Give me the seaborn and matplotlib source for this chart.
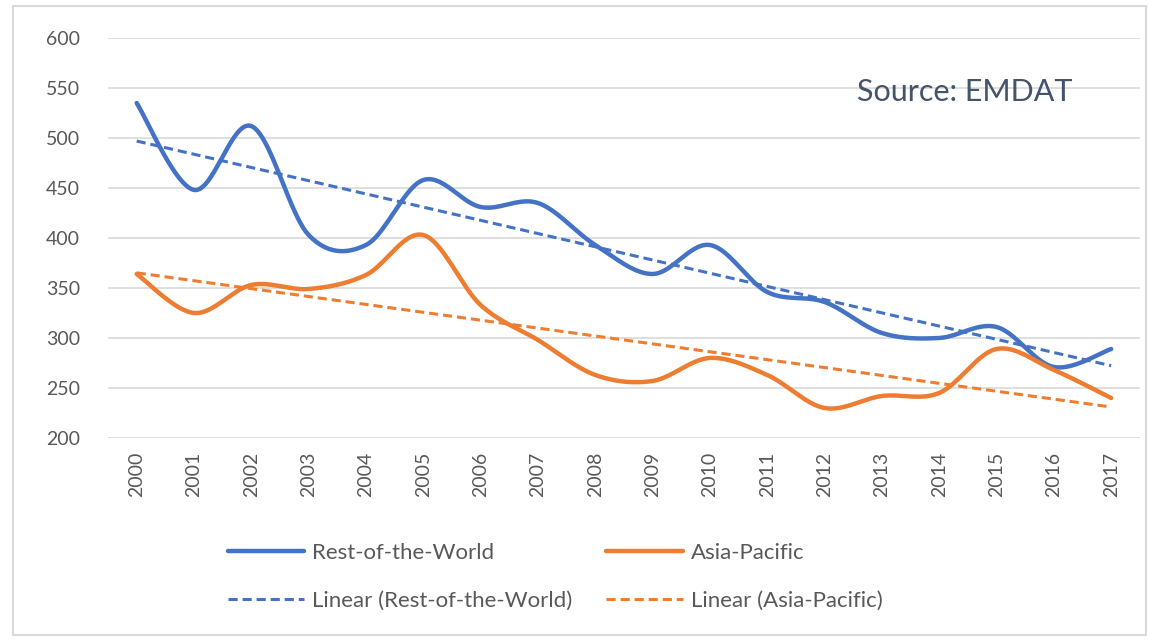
import numpy as np
import pandas as pd
import seaborn as sns
import matplotlib.pyplot as plt
from matplotlib.patches import Rectangle

years = [str(y) for y in range(2000, 2018)]
rest_of_world = [535, 448, 512, 403, 393, 458, 431, 435, 393, 364, 393, 346, 336, 305, 300, 311, 271, 289]
asia_pacific = [364, 325, 353, 349, 363, 403, 333, 298, 263, 257, 280, 263, 230, 242, 245, 289, 268, 240]

series_names = ["Rest-of-the-World", "Asia-Pacific"]
colors = ["#4472C4", "#ED7D31"]


def smooth(x, y, steps=20):
    # catmull-rom style smoothing, like excel's "smoothed line"
    x = np.asarray(x, float)
    y = np.asarray(y, float)
    px = np.concatenate([[x[0]], x, [x[-1]]])
    py = np.concatenate([[y[0]], y, [y[-1]]])
    xs, ys = [], []
    for i in range(1, len(px) - 2):
        t = np.linspace(0, 1, steps, endpoint=False)
        for p, out in ((px, xs), (py, ys)):
            p0, p1, p2, p3 = p[i - 1], p[i], p[i + 1], p[i + 2]
            c1 = p1 + (p2 - p0) / 6
            c2 = p2 - (p3 - p1) / 6
            out.extend((1 - t) ** 3 * p1 + 3 * (1 - t) ** 2 * t * c1 + 3 * (1 - t) * t ** 2 * c2 + t ** 3 * p2)
    xs.append(x[-1])
    ys.append(y[-1])
    return np.array(xs), np.array(ys)


sns.set_style("white")
plt.rcParams['font.family'] = ['Lato', 'DejaVu Sans']

fig = plt.figure(figsize=(11.49, 6.39), dpi=100)
ax = fig.add_axes([0.094, 0.3146, 0.898, 0.6259])

idx = np.arange(len(years))
for name, vals, col in zip(series_names, [rest_of_world, asia_pacific], colors):
    sx, sy = smooth(idx, vals)
    sns.lineplot(x=sx, y=sy, ax=ax, color=col, lw=3.2, label=name, sort=False, estimator=None)

for name, vals, col in zip(series_names, [rest_of_world, asia_pacific], colors):
    slope, icpt = np.polyfit(idx, vals, 1)
    ax.plot(idx, slope * idx + icpt, color=col, lw=2.2, ls=(0, (3, 1.6)), label=f"Linear ({name})")

ax.set_xlim(-0.5, len(years) - 0.5)
ax.set_ylim(200, 600)
ax.set_yticks(range(200, 601, 50))
ax.set_xticks(idx)
ax.set_xticklabels(years, rotation=90)
ax.tick_params(axis='both', length=0, labelsize=14, labelcolor="#595959")
ax.tick_params(axis='y', pad=20)
ax.tick_params(axis='x', pad=10)
ax.yaxis.grid(True, color="#D9D9D9", lw=1.2)
for s in ax.spines.values():
    s.set_visible(False)

ax.text(0.935, 0.865, "Source: EMDAT", transform=ax.transAxes, ha='right', va='center',
        fontsize=22, color="#44546A")

handles, labels = ax.get_legend_handles_labels()
order = [0, 2, 1, 3]
leg = fig.legend([handles[i] for i in order], [labels[i] for i in order], ncol=2,
                 loc='center', bbox_to_anchor=(0.483, 0.0975), frameon=False, fontsize=16,
                 handlelength=3.45, handletextpad=0.36, columnspacing=1.5, labelspacing=1.25)
for t in leg.get_texts():
    t.set_color("#595959")
if ax.get_legend():
    ax.get_legend().remove()

fig.patches.append(Rectangle((0.011, 0.006), 0.986, 0.985, transform=fig.transFigure,
                             fill=False, edgecolor="#D9D9D9", lw=1.5))

fig.savefig("out.png", dpi=100)
